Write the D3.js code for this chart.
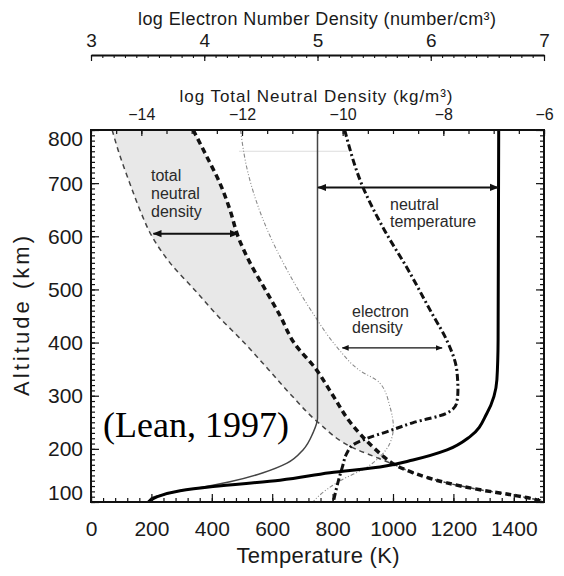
<!DOCTYPE html>
<html>
<head>
<meta charset="utf-8">
<script src="https://cdn.jsdelivr.net/npm/d3@7"></script>
<style>
body { margin: 0; background: #fff; }
</style>
</head>
<body>
<svg id="chart" width="564" height="576"></svg>
<script>
var font = "'Liberation Sans', Arial, sans-serif";
var ink = "#1a1a1a";

// tick labels
var altTicks = [100, 200, 300, 400, 500, 600, 700, 800];
var tempTicks = [0, 200, 400, 600, 800, 1000, 1200, 1400];
var neTicks = [3, 4, 5, 6, 7];
var rhoTicks = [-14, -12, -10, -8, -6];

// neutral temperature (K), [altitude km, T]
var tempLow = [[100, 190], [108, 200], [115, 250], [121, 295], [126, 351], [138, 460], [155, 570],
	[173, 649], [198, 702], [230, 735], [258, 750], [300, 750], [800, 750]];
var tempHigh = [[100, 190], [110, 220], [121, 295], [129, 404], [141, 626], [155, 791], [166, 957],
	[179, 1066], [198, 1179], [223, 1255], [267, 1311], [330, 1344], [405, 1348], [800, 1350]];

// electron density, [altitude km, log Ne]
var neLow = [[100, 4.96], [109, 5.0], [140, 5.2], [166, 5.44], [185, 5.55], [211, 5.64], [241, 5.67],
	[279, 5.64], [324, 5.55], [348, 5.37], [392, 5.17], [455, 4.96], [537, 4.73], [631, 4.52],
	[725, 4.38], [800, 4.32]];
var neHigh = [[100, 5.14], [128, 5.17], [166, 5.22], [192, 5.26], [207, 5.31], [220, 5.44], [232, 5.61],
	[249, 5.84], [267, 6.14], [287, 6.23], [311, 6.24], [348, 6.23], [405, 6.14], [455, 6.01],
	[537, 5.80], [612, 5.59], [693, 5.40], [800, 5.24]];

// total neutral density, log rho at the same altitudes
var rhoAlt = [800, 750, 700, 650, 600, 550, 500, 450, 400, 350, 300, 250, 200, 185, 172, 155, 136, 123, 113, 105, 100];
var rhoLow = [-14.58, -14.42, -14.23, -14.03, -13.79, -13.43, -12.95, -12.48, -11.96, -11.48, -11.01, -10.49,
	-9.75, -9.36, -9.02, -8.60, -7.93, -7.27, -6.62, -6.18, -6.02];
var rhoHigh = [-12.97, -12.70, -12.44, -12.24, -12.08, -11.84, -11.54, -11.24, -10.97, -10.53, -10.19, -9.85,
	-9.36, -9.18, -9.0, -8.60, -7.93, -7.27, -6.62, -6.18, -6.02];
var fillBottom = 172;

// arrows: [altitude, from, to] in each axis' units
var rhoArrow = [605, -13.76, -12.08];
var tempArrow = [692, 752, 1348];
var neArrow = [390, 5.22, 6.10];
var faintLine = [760, 490, 850];

var svg = d3.select("#chart");

var x = d3.scaleLinear().domain([0, 1500]).range([91, 544]);
var y = d3.scaleLinear().domain([100, 800]).range([502, 130]);
var xNe = d3.scaleLinear().domain([3, 7]).range([91, 544]);
var xRho = d3.scaleLinear().domain([-15, -6]).range([91, 544]);

var defs = svg.append("defs");
defs.append("clipPath").attr("id", "plotclip")
	.append("rect").attr("x", 91).attr("y", 130).attr("width", 453).attr("height", 372);

function addMarker(id, w) {
	defs.append("marker")
		.attr("id", id)
		.attr("viewBox", "0 0 10 10")
		.attr("refX", 9).attr("refY", 5)
		.attr("markerWidth", w).attr("markerHeight", w)
		.attr("markerUnits", "userSpaceOnUse")
		.attr("orient", "auto-start-reverse")
		.append("path")
		.attr("d", "M0,1 L10,5 L0,9 Z")
		.attr("fill", "#111");
}
addMarker("arrowBig", 9);
addMarker("arrowSmall", 7);

var plot = svg.append("g").attr("clip-path", "url(#plotclip)");

// shaded band between the two neutral density curves
var band = [];
for (var i = 0; i < rhoAlt.length; i++) {
	if (rhoAlt[i] >= fillBottom) band.push({alt: rhoAlt[i], lo: rhoLow[i], hi: rhoHigh[i]});
}
plot.append("path")
	.datum(band)
	.attr("d", d3.area()
		.y(d => y(d.alt))
		.x0(d => xRho(d.lo))
		.x1(d => xRho(d.hi))
		.curve(d3.curveMonotoneY))
	.attr("fill", "#e8e8e8");

plot.append("line")
	.attr("x1", x(faintLine[1])).attr("x2", x(faintLine[2]))
	.attr("y1", y(faintLine[0])).attr("y2", y(faintLine[0]))
	.attr("stroke", "#ddd").attr("stroke-width", 1);

function drawCurve(data, xs, color, width, dash) {
	var pts = data.slice().sort((a, b) => b[0] - a[0]);
	plot.append("path")
		.datum(pts)
		.attr("d", d3.line()
			.x(d => xs(d[1]))
			.y(d => y(d[0]))
			.curve(d3.curveMonotoneY))
		.attr("fill", "none")
		.attr("stroke", color)
		.attr("stroke-width", width)
		.attr("stroke-dasharray", dash);
}

var rhoLowPts = rhoAlt.map((a, i) => [a, rhoLow[i]]);
var rhoHighPts = rhoAlt.map((a, i) => [a, rhoHigh[i]]);

drawCurve(neLow, xNe, "#8a8a8a", 1.1, "4,2,1,2,1,2");
drawCurve(rhoLowPts, xRho, "#444", 1.5, "5,4");
drawCurve(tempLow, x, "#444", 1.5, null);
drawCurve(neHigh, xNe, "#111", 3, "7,3,2,3");
drawCurve(rhoHighPts, xRho, "#111", 3.5, "6,4");
drawCurve(tempHigh, x, "#000", 3, null);

// arrows
function drawArrow(a, xs, width, marker) {
	svg.append("line")
		.attr("x1", xs(a[1])).attr("x2", xs(a[2]))
		.attr("y1", y(a[0])).attr("y2", y(a[0]))
		.attr("stroke", "#111").attr("stroke-width", width)
		.attr("marker-start", "url(#" + marker + ")")
		.attr("marker-end", "url(#" + marker + ")");
}
drawArrow(rhoArrow, xRho, 2, "arrowBig");
drawArrow(tempArrow, x, 2, "arrowBig");
drawArrow(neArrow, xNe, 1.2, "arrowSmall");

// frame
svg.append("rect")
	.attr("x", 91).attr("y", 130).attr("width", 453).attr("height", 372)
	.attr("fill", "none").attr("stroke", "#111").attr("stroke-width", 2);

function ticks(axis, tr) {
	var g = svg.append("g").attr("transform", tr).call(axis);
	g.select(".domain").remove();
	g.selectAll("line").attr("stroke", "#111").attr("stroke-width", 1.2);
	return g;
}
function labels(axis, tr, size) {
	var g = svg.append("g").attr("transform", tr).call(axis);
	g.select(".domain").remove();
	g.attr("font-size", null).attr("font-family", null);
	g.selectAll("text").attr("font-size", size).attr("font-family", font).attr("fill", ink);
	return g;
}

var intFmt = d => d3.format("d")(d).replace("-", "\u2212");
var altMinor = d3.range(100, 801, 10);
var tempMinor = d3.range(0, 1501, 40);
var rhoMinor = d3.range(-30, -11).map(v => v / 2);
var neMinor = d3.range(30, 71).map(v => v / 10);

// left / right altitude ticks, pointing inward
ticks(d3.axisRight(y).tickValues(altMinor).tickSize(4).tickFormat(""), "translate(91,0)");
ticks(d3.axisRight(y).tickValues(altTicks).tickSize(8).tickFormat(""), "translate(91,0)");
ticks(d3.axisLeft(y).tickValues(altMinor).tickSize(4).tickFormat(""), "translate(544,0)");
ticks(d3.axisLeft(y).tickValues(altTicks).tickSize(8).tickFormat(""), "translate(544,0)");
var altLab = labels(d3.axisLeft(y).tickValues(altTicks).tickSize(0).tickPadding(8).tickFormat(intFmt), "translate(91,0)", 21);
altLab.selectAll("text").attr("dy", d => d === 800 ? "0.75em" : d === 100 ? "-0.1em" : "0.34em");

// bottom temperature ticks
ticks(d3.axisTop(x).tickValues(tempMinor).tickSize(4).tickFormat(""), "translate(0,502)");
ticks(d3.axisTop(x).tickValues(tempTicks).tickSize(8).tickFormat(""), "translate(0,502)");
labels(d3.axisBottom(x).tickValues(tempTicks).tickSize(0).tickPadding(19).tickFormat(intFmt), "translate(0,502)", 21);

// top of frame: total neutral density
ticks(d3.axisBottom(xRho).tickValues(rhoMinor).tickSize(4).tickFormat(""), "translate(0,130)");
ticks(d3.axisBottom(xRho).tickValues(rhoTicks).tickSize(6).tickFormat(""), "translate(0,130)");
labels(d3.axisTop(xRho).tickValues(rhoTicks).tickSize(0).tickPadding(10).tickFormat(intFmt), "translate(0,130)", 16);

// separate electron density axis
var neAxis = svg.append("g").attr("transform", "translate(0,55)")
	.call(d3.axisBottom(xNe).tickValues(neMinor).tickSize(3).tickSizeOuter(0).tickFormat(""));
neAxis.select(".domain").attr("stroke", "#111").attr("stroke-width", 2);
neAxis.selectAll("line").attr("stroke", "#111").attr("stroke-width", 1.1);
ticks(d3.axisBottom(xNe).tickValues(neTicks).tickSize(6).tickFormat(""), "translate(0,55)");
labels(d3.axisTop(xNe).tickValues(neTicks).tickSize(0).tickPadding(8).tickFormat(intFmt), "translate(0,55)", 19);

// titles
function title(txt, tx, ty, size, len, rot) {
	var t = svg.append("text")
		.attr("transform", "translate(" + tx + "," + ty + ")" + (rot ? " rotate(-90)" : ""))
		.attr("text-anchor", "middle")
		.attr("font-family", font)
		.attr("font-size", size)
		.attr("fill", ink)
		.text(txt);
	if (len) t.attr("textLength", len).attr("lengthAdjust", "spacing");
	return t;
}
title("log Electron Number Density (number/cm\u00b3)", 317, 25, 18, 358);
title("log Total Neutral Density (kg/m\u00b3)", 316, 102, 17, 273);
title("Temperature (K)", 318, 563, 22, 163);
title("Altitude (km)", 29, 316, 22, 160, true);

// curve annotations
function note(lines, tx, ty, step) {
	var t = svg.append("text")
		.attr("font-family", font)
		.attr("font-size", 16)
		.attr("fill", "#2a2a2a");
	lines.forEach((s, i) => {
		t.append("tspan").attr("x", tx).attr("y", ty + i * step).text(s);
	});
}
note(["total", "neutral", "density"], 151, 181, 18);
note(["neutral", "temperature"], 390, 210, 17);
note(["electron", "density"], 352, 317, 16);

svg.append("text")
	.attr("x", 103).attr("y", 437)
	.attr("font-family", "'Liberation Serif', 'Times New Roman', serif")
	.attr("font-size", 36)
	.attr("fill", "#000")
	.text("(Lean, 1997)");
</script>
</body>
</html>
